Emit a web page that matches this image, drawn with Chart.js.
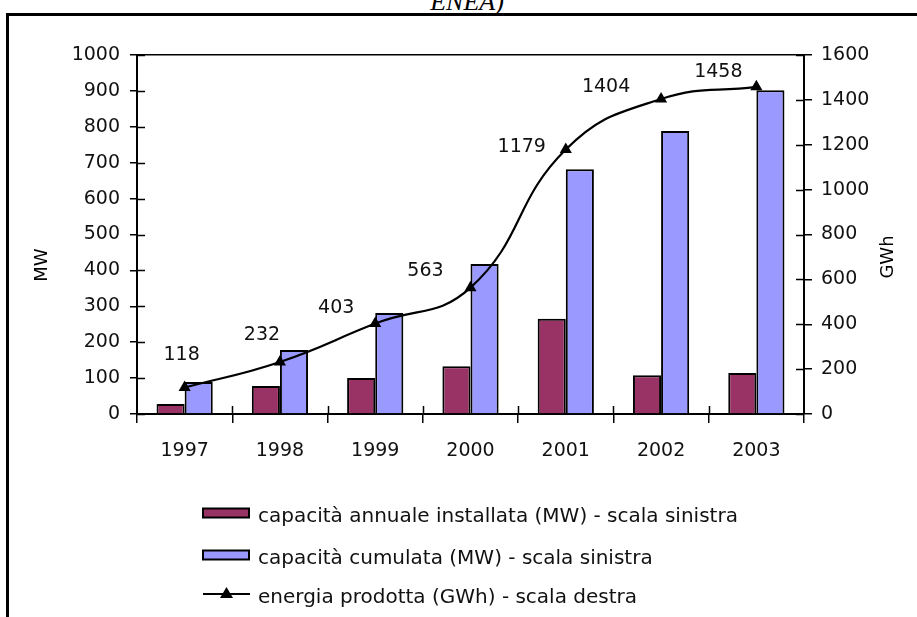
<!DOCTYPE html>
<html>
<head>
<meta charset="utf-8">
<script src="https://cdn.jsdelivr.net/npm/chart.js@4"></script>
<style>
  html, body { margin: 0; padding: 0; background: #fff; overflow: hidden; }
  #wrap { position: relative; width: 917px; height: 617px; overflow: hidden; }
  #frame { position: absolute; left: 6px; top: 13px; width: 1000px; height: 700px;
           border-left: 3px solid #000; border-top: 3px solid #000; }
  #src { position: absolute; left: 0; top: -11px; width: 934px; text-align: center;
         font: italic 26px "Liberation Serif", "Times New Roman", serif; line-height: 26px; color: #000; }
  canvas { position: absolute; left: 0; top: 0; }
</style>
</head>
<body>
<div id="wrap">
  <div id="src">ENEA)</div>
  <div id="frame"></div>
  <canvas id="chart" width="917" height="617"></canvas>
</div>
<script>
// years and the three series
const years = ['1997', '1998', '1999', '2000', '2001', '2002', '2003'];
const annualMW = [28, 78, 100, 133, 265, 108, 114];
const cumulMW = [89, 178, 281, 418, 682, 788, 902];
const energyGWh = [118, 232, 403, 563, 1179, 1404, 1458];

const lblAnnual = 'capacità annuale installata (MW) - scala sinistra';
const lblCumul = 'capacità cumulata (MW) - scala sinistra';
const lblEnergy = 'energia prodotta (GWh) - scala destra';

const FONT = "'DejaVu Sans', Arial, sans-serif";

// where each value label sits relative to its marker (dx, dy)
const labelShift = [[-3, -32], [-18, -27], [-39, -16], [-45, -17], [-44, -2], [-55, -12], [-38, -15]];

// short tick marks on the inside of the axes (excel style crossing ticks)
const innerTicks = {
  id: 'innerTicks',
  afterDraw(chart) {
    const ctx = chart.ctx;
    const a = chart.chartArea;
    ctx.save();
    ctx.strokeStyle = '#000';
    ctx.lineWidth = 1.5;
    ctx.beginPath();
    const y = chart.scales.y;
    y.ticks.forEach(t => {
      const p = Math.round(y.getPixelForValue(t.value)) + 0.5;
      ctx.moveTo(a.left, p); ctx.lineTo(a.left + 8, p);
    });
    const y2 = chart.scales.y2;
    y2.ticks.forEach(t => {
      const p = Math.round(y2.getPixelForValue(t.value)) + 0.5;
      ctx.moveTo(a.right - 8, p); ctx.lineTo(a.right, p);
    });
    const x = chart.scales.x;
    const step = (x.right - x.left) / years.length;
    for (let i = 1; i < years.length; i++) {
      const p = Math.round(x.getPixelForValue(i) - step / 2) + 0.5;
      ctx.moveTo(p, a.bottom - 8); ctx.lineTo(p, a.bottom);
    }
    ctx.stroke();
    ctx.restore();
  }
};

// value labels for the energy line
const energyLabels = {
  id: 'energyLabels',
  afterDatasetsDraw(chart) {
    const ctx = chart.ctx;
    const meta = chart.getDatasetMeta(2);
    ctx.save();
    ctx.font = '19px ' + FONT;
    ctx.fillStyle = '#111';
    ctx.textAlign = 'center';
    ctx.textBaseline = 'middle';
    meta.data.forEach((pt, i) => {
      ctx.fillText(String(energyGWh[i]), pt.x + labelShift[i][0], pt.y + labelShift[i][1]);
    });
    ctx.restore();
  }
};

// axis titles, both read bottom to top
const axisTitles = {
  id: 'axisTitles',
  afterDraw(chart) {
    const ctx = chart.ctx;
    ctx.save();
    ctx.font = '18px ' + FONT;
    ctx.fillStyle = '#000';
    ctx.textAlign = 'center';
    ctx.textBaseline = 'middle';
    [['MW', 42, 265], ['GWh', 888, 257]].forEach(([txt, px, py]) => {
      ctx.save();
      ctx.translate(px, py);
      ctx.rotate(-Math.PI / 2);
      ctx.fillText(txt, 0, 0);
      ctx.restore();
    });
    ctx.restore();
  }
};

// stacked legend under the chart
const stackLegend = {
  id: 'stackLegend',
  afterDraw(chart) {
    const ctx = chart.ctx;
    const rows = [522, 564, 603];
    ctx.save();
    ctx.font = '20px ' + FONT;
    ctx.textBaseline = 'alphabetic';
    chart.data.datasets.forEach((ds, i) => {
      const base = rows[i];
      const mid = base - 9;
      if (ds.type === 'line') {
        ctx.strokeStyle = '#000';
        ctx.lineWidth = 2;
        ctx.beginPath();
        ctx.moveTo(203, mid); ctx.lineTo(250, mid);
        ctx.stroke();
        ctx.fillStyle = '#000';
        ctx.beginPath();
        ctx.moveTo(226.5, mid - 7); ctx.lineTo(233, mid + 4); ctx.lineTo(220, mid + 4);
        ctx.closePath();
        ctx.fill();
      } else {
        ctx.fillStyle = ds.backgroundColor;
        ctx.fillRect(203, mid - 4.5, 46, 9);
        ctx.strokeStyle = '#000';
        ctx.lineWidth = 2;
        ctx.strokeRect(203, mid - 4.5, 46, 9);
      }
      ctx.fillStyle = '#111';
      ctx.fillText(ds.label, 258, base);
    });
    ctx.restore();
  }
};

const plain = v => String(v);

const ctx = document.getElementById('chart');
const myChart = new Chart(ctx, {
  type: 'bar',
  data: {
    labels: years,
    datasets: [{
      label: lblAnnual,
      data: annualMW,
      backgroundColor: '#993366',
      borderColor: '#000',
      borderWidth: 2,
      yAxisID: 'y',
      order: 1
    },
    {
      label: lblCumul,
      data: cumulMW,
      backgroundColor: '#9999FF',
      borderColor: '#000',
      borderWidth: 2,
      yAxisID: 'y',
      order: 1
    },
    {
      type: 'line',
      label: lblEnergy,
      data: energyGWh,
      borderColor: '#000',
      backgroundColor: '#000',
      borderWidth: 2.2,
      tension: 0.45,
      pointStyle: 'triangle',
      pointRadius: 7,
      pointBorderWidth: 0,
      yAxisID: 'y2',
      order: 0
    }]
  },
  options: {
    responsive: false,
    animation: false,
    devicePixelRatio: 1,
    categoryPercentage: 0.59,
    barPercentage: 1.0,
    layout: { padding: { top: 55, left: 0, right: 0, bottom: 0 } },
    plugins: {
      legend: { display: false },
      tooltip: { enabled: false }
    },
    scales: {
      x: {
        offset: true,
        grid: { offset: true, drawOnChartArea: false, drawTicks: true, tickLength: 9, color: '#000', lineWidth: 1.5 },
        border: { color: '#000', width: 2 },
        ticks: { font: { size: 19, family: FONT }, color: '#111', padding: 17 },
        afterFit(s) { s.height = 203; }
      },
      y: {
        position: 'left',
        min: 0,
        max: 1000,
        ticks: { stepSize: 100, font: { size: 19, family: FONT }, color: '#111', padding: 10, callback: plain },
        grid: {
          drawOnChartArea: true,
          tickLength: 7,
          tickColor: '#000',
          lineWidth: 1.5,
          color: c => (c.tick && c.tick.value === 1000) ? '#000' : 'rgba(0,0,0,0)'
        },
        border: { color: '#000', width: 2 },
        afterFit(s) { s.width = 137; }
      },
      y2: {
        position: 'right',
        min: 0,
        max: 1600,
        ticks: { stepSize: 200, font: { size: 19, family: FONT }, color: '#111', padding: 9, callback: plain },
        grid: { drawOnChartArea: false, tickLength: 8, color: '#000', lineWidth: 1.5 },
        border: { color: '#000', width: 2 },
        afterFit(s) { s.width = 113; }
      }
    }
  },
  plugins: [innerTicks, energyLabels, axisTitles, stackLegend]
});
</script>
</body>
</html>
